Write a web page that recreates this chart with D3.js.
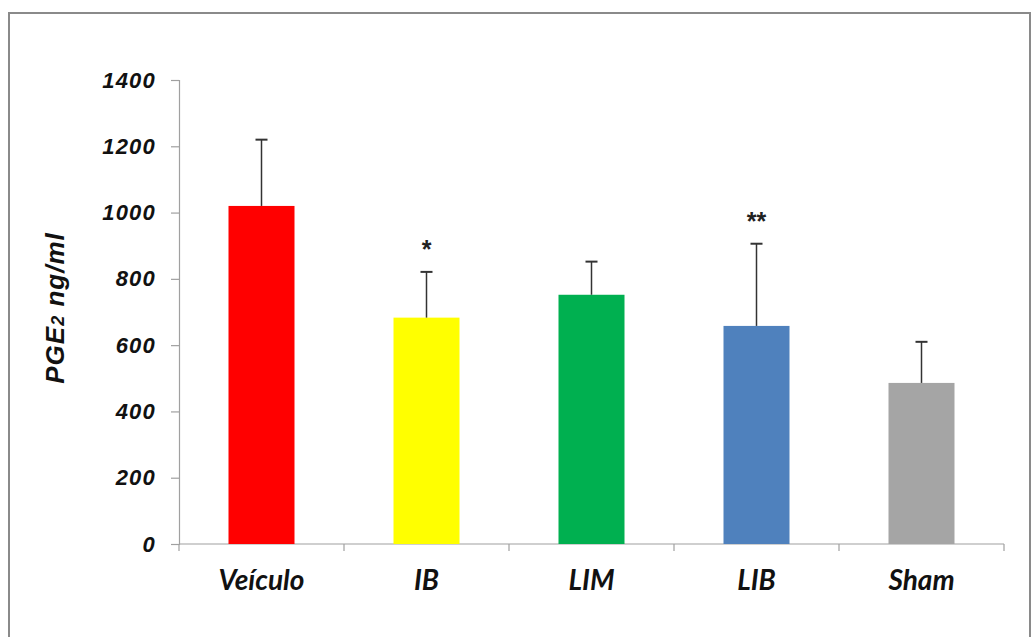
<!DOCTYPE html>
<html>
<head>
<meta charset="utf-8">
<script src="https://cdn.jsdelivr.net/npm/d3@7"></script>
<style>
  html, body { margin: 0; padding: 0; background: #fff; }
  svg { display: block; }
</style>
</head>
<body>
<svg id="chart" width="1034" height="637"></svg>
<script>
// PGE2 levels per treatment group (mean + SD)
const groups = ["Veículo", "IB", "LIM", "LIB", "Sham"];
const means = [1020, 683, 752, 658, 486];
const errors = [200, 138, 100, 248, 124];
const colors = ["#FF0000", "#FFFF00", "#00B050", "#4F81BD", "#A5A5A5"];
const marks = ["", "*", "", "**", ""];
const yTicks = [0, 200, 400, 600, 800, 1000, 1200, 1400];

const svg = d3.select("#chart");

// outer frame
svg.append("rect")
  .attr("x", 9).attr("y", 13)
  .attr("width", 1021).attr("height", 640)
  .attr("fill", "#fff")
  .attr("stroke", "#8a8a8a").attr("stroke-width", 2);

const x = d3.scaleBand().domain(groups).range([179, 1004])
  .paddingInner(0.6).paddingOuter(0.3);
const y = d3.scaleLinear().domain([0, 1400]).range([544, 80]);

const axisColor = "#a0a0a0";
const tickFont = "'Liberation Sans', Arial, sans-serif";
const catFont = "Lato, 'Open Sans', sans-serif";

// y axis
const yAxis = svg.append("g")
  .attr("transform", "translate(179,0)")
  .call(d3.axisLeft(y).tickValues(yTicks).tickSize(8).tickPadding(15).tickFormat(d3.format("d")));
yAxis.select(".domain").attr("stroke", axisColor).attr("stroke-width", 1.2);
yAxis.selectAll(".tick line").attr("stroke", axisColor).attr("stroke-width", 1.2);
yAxis.selectAll(".tick text")
  .attr("font-family", tickFont).attr("font-size", 22)
  .attr("font-weight", "bold").attr("font-style", "italic")
  .attr("letter-spacing", 1.2)
  .attr("fill", "#111");

// x axis line with tick marks at band boundaries
svg.append("line")
  .attr("x1", 179).attr("x2", 1004).attr("y1", y(0)).attr("y2", y(0))
  .attr("stroke", axisColor).attr("stroke-width", 1.2);
const boundaries = groups.map(g => x(g) - x.step() * x.paddingOuter())
  .concat([x(groups[groups.length - 1]) - x.step() * x.paddingOuter() + x.step()]);
svg.selectAll(".xtick").data(boundaries).join("line")
  .attr("class", "xtick")
  .attr("x1", d => d).attr("x2", d => d)
  .attr("y1", y(0)).attr("y2", y(0) + 7)
  .attr("stroke", axisColor).attr("stroke-width", 1.2);

// bars
svg.selectAll(".bar").data(groups).join("rect")
  .attr("class", "bar")
  .attr("x", d => x(d))
  .attr("y", (d, i) => y(means[i]))
  .attr("width", x.bandwidth())
  .attr("height", (d, i) => y(0) - y(means[i]))
  .attr("fill", (d, i) => colors[i]);

// upper error bars
const cx = d => x(d) + x.bandwidth() / 2;
svg.selectAll(".err").data(groups).join("line")
  .attr("class", "err")
  .attr("x1", cx).attr("x2", cx)
  .attr("y1", (d, i) => y(means[i]))
  .attr("y2", (d, i) => y(means[i] + errors[i]))
  .attr("stroke", "#333").attr("stroke-width", 1.5);
svg.selectAll(".cap").data(groups).join("line")
  .attr("class", "cap")
  .attr("x1", d => cx(d) - 6).attr("x2", d => cx(d) + 6)
  .attr("y1", (d, i) => y(means[i] + errors[i]))
  .attr("y2", (d, i) => y(means[i] + errors[i]))
  .attr("stroke", "#333").attr("stroke-width", 2);

// significance marks
svg.selectAll(".sig").data(groups).join("text")
  .attr("class", "sig")
  .attr("x", cx)
  .attr("y", (d, i) => y(means[i] + errors[i]) - 14)
  .attr("text-anchor", "middle")
  .attr("font-family", tickFont).attr("font-size", 25).attr("font-weight", "bold")
  .attr("fill", "#222")
  .text((d, i) => marks[i]);

// category labels
svg.selectAll(".cat").data(groups).join("text")
  .attr("class", "cat")
  .attr("x", cx)
  .attr("y", 590)
  .attr("text-anchor", "middle")
  .attr("font-family", catFont).attr("font-size", 28)
  .attr("font-weight", "bold").attr("font-style", "italic")
  .attr("fill", "#111")
  .text(d => d);

// y axis title
const title = svg.append("text")
  .attr("transform", "translate(64,308) rotate(-90)")
  .attr("text-anchor", "middle")
  .attr("font-family", tickFont).attr("font-size", 26)
  .attr("font-weight", "bold").attr("font-style", "italic")
  .attr("letter-spacing", 1)
  .attr("fill", "#111");
title.append("tspan").text("PGE");
title.append("tspan").attr("font-size", 18).text("2");
title.append("tspan").text(" ng/ml");
</script>
</body>
</html>
